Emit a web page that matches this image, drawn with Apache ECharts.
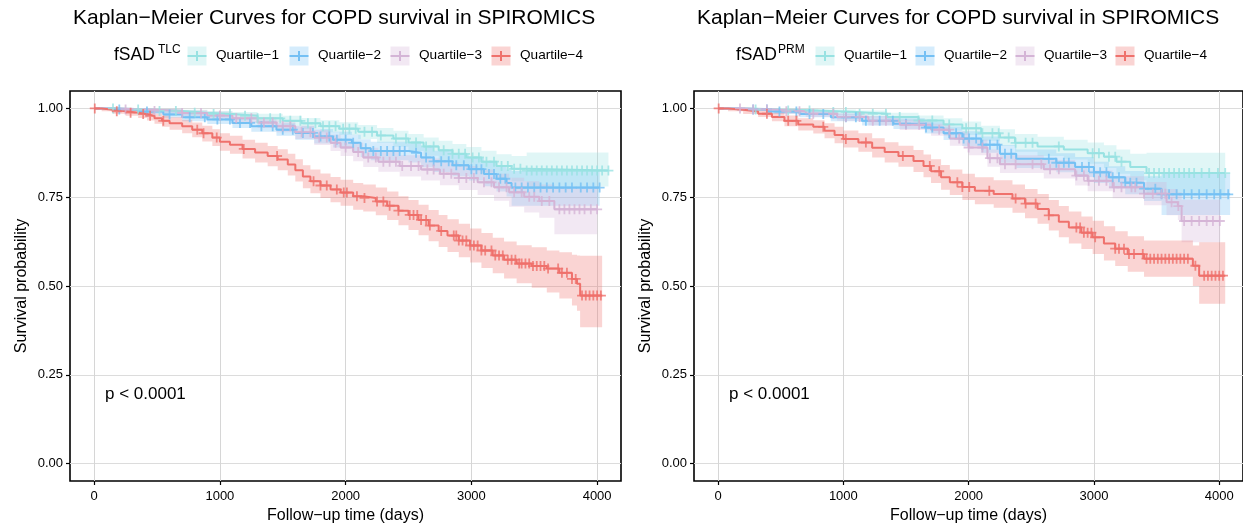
<!DOCTYPE html>
<html><head><meta charset="utf-8">
<script src="https://cdn.jsdelivr.net/npm/echarts@6/dist/echarts.min.js"></script>
<style>html,body{margin:0;padding:0;background:#fff}#c{width:1243px;height:529px}</style>
</head><body><div id="c"></div>
<script>
// ---------------- data ----------------
const groups = ['Quartile−1', 'Quartile−2', 'Quartile−3', 'Quartile−4'];
const panelTitles = ['Kaplan−Meier Curves for COPD survival in SPIROMICS', 'Kaplan−Meier Curves for COPD survival in SPIROMICS'];
const legendSup = ['TLC', 'PRM'];
const pValueText = 'p < 0.0001';
const xTicks = [0, 1000, 2000, 3000, 4000];
const yTicks = [0, 0.25, 0.5, 0.75, 1];
const yTickLabels = ['0.00', '0.25', '0.50', '0.75', '1.00'];
const xName = 'Follow−up time (days)';
const yName = 'Survival probability';

// rows: [time, survival, lower CI, upper CI]
const tlcQ1 = [[0,1,1,1],[200,0.997,0.993,1],[450,0.993,0.987,0.999],[700,0.988,0.980,0.996],[900,0.984,0.975,0.993],[1100,0.979,0.968,0.990],[1300,0.972,0.960,0.985],[1500,0.965,0.951,0.979],[1650,0.958,0.942,0.973],[1800,0.950,0.933,0.967],[1950,0.943,0.925,0.961],[2100,0.934,0.914,0.953],[2250,0.924,0.903,0.945],[2380,0.915,0.892,0.937],[2500,0.904,0.880,0.928],[2620,0.893,0.867,0.918],[2740,0.882,0.855,0.909],[2850,0.872,0.844,0.900],[2960,0.862,0.832,0.891],[3080,0.850,0.819,0.881],[3200,0.838,0.805,0.871],[3320,0.830,0.795,0.866],[3440,0.825,0.780,0.876],[4090,0.825,0.780,0.876]];
const tlcQ2 = [[0,1,1,1],[150,0.997,0.993,1],[350,0.991,0.984,0.998],[550,0.983,0.974,0.992],[700,0.975,0.964,0.986],[900,0.969,0.956,0.981],[1100,0.959,0.945,0.973],[1250,0.950,0.934,0.966],[1450,0.940,0.923,0.958],[1600,0.931,0.912,0.950],[1750,0.921,0.901,0.942],[1900,0.912,0.890,0.934],[2050,0.903,0.880,0.926],[2120,0.888,0.863,0.913],[2200,0.880,0.854,0.906],[2500,0.875,0.848,0.902],[2600,0.862,0.834,0.891],[2700,0.851,0.821,0.881],[2850,0.840,0.809,0.871],[2980,0.829,0.797,0.862],[3100,0.815,0.781,0.849],[3200,0.802,0.766,0.838],[3280,0.790,0.752,0.828],[3320,0.777,0.726,0.824],[4020,0.777,0.726,0.824]];
const tlcQ3 = [[0,1,1,1],[200,0.997,0.993,1],[450,0.993,0.986,0.999],[700,0.987,0.978,0.995],[900,0.980,0.969,0.991],[1100,0.972,0.959,0.985],[1300,0.960,0.945,0.975],[1450,0.950,0.933,0.967],[1600,0.933,0.914,0.952],[1750,0.918,0.897,0.939],[1880,0.903,0.880,0.926],[1960,0.890,0.866,0.914],[2060,0.877,0.851,0.903],[2140,0.862,0.835,0.889],[2260,0.850,0.822,0.878],[2430,0.838,0.808,0.868],[2600,0.828,0.797,0.859],[2750,0.816,0.784,0.848],[2900,0.804,0.770,0.838],[3050,0.792,0.756,0.828],[3180,0.778,0.740,0.816],[3300,0.764,0.723,0.805],[3420,0.751,0.707,0.795],[3540,0.739,0.692,0.786],[3660,0.716,0.646,0.777],[4000,0.716,0.646,0.777]];
const tlcQ4 = [[0,1,1,1],[60,0.996,0.992,1],[150,0.992,0.985,0.998],[250,0.988,0.979,0.996],[350,0.984,0.973,0.993],[420,0.979,0.966,0.990],[480,0.972,0.957,0.985],[540,0.965,0.948,0.980],[600,0.958,0.940,0.975],[700,0.950,0.930,0.968],[780,0.940,0.919,0.960],[860,0.930,0.907,0.951],[940,0.918,0.894,0.941],[1000,0.906,0.881,0.930],[1080,0.898,0.872,0.923],[1180,0.886,0.859,0.912],[1280,0.876,0.848,0.903],[1380,0.866,0.837,0.894],[1460,0.856,0.826,0.885],[1540,0.842,0.811,0.872],[1600,0.826,0.794,0.857],[1660,0.808,0.775,0.840],[1720,0.795,0.761,0.828],[1800,0.783,0.748,0.817],[1880,0.772,0.736,0.807],[1960,0.763,0.726,0.799],[2060,0.753,0.715,0.790],[2140,0.748,0.710,0.786],[2240,0.738,0.699,0.777],[2330,0.726,0.686,0.766],[2420,0.712,0.671,0.753],[2500,0.700,0.658,0.742],[2580,0.686,0.643,0.729],[2660,0.670,0.626,0.714],[2740,0.655,0.610,0.700],[2810,0.642,0.596,0.688],[2900,0.628,0.581,0.675],[2990,0.614,0.566,0.662],[3080,0.600,0.551,0.649],[3170,0.586,0.536,0.636],[3260,0.574,0.521,0.625],[3360,0.563,0.508,0.615],[3480,0.556,0.495,0.609],[3600,0.549,0.482,0.600],[3700,0.537,0.465,0.595],[3800,0.520,0.445,0.588],[3840,0.506,0.430,0.586],[3865,0.473,0.384,0.585],[4040,0.473,0.384,0.585]];

const prmQ1 = [[0,1,1,1],[250,0.997,0.993,1],[500,0.994,0.988,0.999],[800,0.990,0.982,0.997],[1100,0.985,0.975,0.994],[1350,0.976,0.964,0.988],[1600,0.966,0.951,0.980],[1800,0.955,0.938,0.972],[1950,0.944,0.925,0.963],[2100,0.930,0.909,0.951],[2250,0.918,0.895,0.941],[2370,0.903,0.878,0.928],[2550,0.893,0.866,0.920],[2760,0.884,0.856,0.912],[2950,0.874,0.844,0.904],[3080,0.864,0.832,0.896],[3180,0.850,0.816,0.884],[3290,0.835,0.798,0.872],[3420,0.818,0.762,0.875],[4048,0.818,0.762,0.875]];
const prmQ2 = [[0,1,1,1],[150,0.997,0.993,1],[400,0.991,0.984,0.998],[650,0.984,0.975,0.993],[900,0.975,0.964,0.986],[1150,0.965,0.952,0.978],[1400,0.957,0.942,0.972],[1650,0.946,0.929,0.963],[1800,0.930,0.911,0.949],[1950,0.915,0.894,0.936],[2100,0.898,0.875,0.921],[2250,0.872,0.847,0.897],[2380,0.858,0.832,0.884],[2700,0.847,0.820,0.874],[2850,0.835,0.807,0.863],[3000,0.820,0.790,0.850],[3120,0.806,0.775,0.837],[3250,0.791,0.758,0.824],[3400,0.774,0.739,0.809],[3540,0.758,0.700,0.815],[4087,0.758,0.700,0.815]];
const prmQ3 = [[0,1,1,1],[200,0.997,0.993,1],[450,0.992,0.985,0.998],[700,0.985,0.976,0.993],[950,0.976,0.965,0.986],[1200,0.965,0.952,0.978],[1450,0.954,0.939,0.969],[1700,0.940,0.923,0.957],[1850,0.915,0.895,0.935],[2000,0.890,0.868,0.912],[2150,0.860,0.836,0.884],[2250,0.843,0.818,0.868],[2600,0.829,0.803,0.855],[2850,0.811,0.783,0.839],[2950,0.796,0.767,0.825],[3150,0.778,0.747,0.809],[3400,0.760,0.727,0.793],[3580,0.736,0.699,0.773],[3670,0.725,0.686,0.764],[3700,0.683,0.623,0.743],[4008,0.683,0.623,0.743]];
const prmQ4 = [[0,1,1,1],[80,0.996,0.992,1],[200,0.991,0.984,0.998],[320,0.985,0.976,0.994],[430,0.976,0.964,0.988],[530,0.965,0.950,0.980],[640,0.955,0.938,0.972],[760,0.948,0.929,0.967],[850,0.937,0.916,0.958],[930,0.925,0.902,0.948],[1000,0.914,0.890,0.938],[1120,0.904,0.878,0.930],[1230,0.889,0.862,0.916],[1330,0.877,0.848,0.905],[1440,0.866,0.836,0.895],[1560,0.852,0.821,0.883],[1640,0.838,0.806,0.870],[1700,0.823,0.790,0.857],[1780,0.806,0.771,0.841],[1850,0.792,0.756,0.828],[1950,0.779,0.742,0.816],[2050,0.768,0.730,0.806],[2200,0.759,0.720,0.798],[2350,0.746,0.706,0.786],[2450,0.732,0.691,0.773],[2550,0.717,0.675,0.759],[2640,0.699,0.656,0.742],[2720,0.681,0.637,0.725],[2800,0.665,0.620,0.710],[2900,0.650,0.604,0.696],[2990,0.637,0.590,0.684],[3080,0.620,0.572,0.668],[3170,0.605,0.556,0.654],[3270,0.590,0.540,0.640],[3400,0.577,0.526,0.628],[3790,0.557,0.500,0.614],[3840,0.529,0.450,0.623],[4048,0.529,0.450,0.623]];

// censoring times
const tlcQ1Cens = [150,350,520,650,800,950,1080,1200,1300,1400,1480,1560,1640,1700,1760,1820,1870,1920,1980,2030,2080,2150,2210,2280,2400,2480,2560,2640,2700,2780,2850,2900,2950,3010,3060,3120,3180,3240,3290,3340,3390,3440,3480,3520,3560,3600,3640,3680,3720,3760,3800,3840,3880,3920,3960,4000,4040,4090];
const tlcQ2Cens = [200,420,600,760,880,980,1080,1160,1240,1330,1420,1500,1580,1660,1740,1800,1870,1930,2000,2060,2160,2220,2280,2330,2380,2430,2470,2560,2640,2700,2760,2820,2880,2940,3000,3040,3080,3140,3180,3230,3270,3350,3400,3450,3500,3550,3600,3650,3700,3750,3800,3870,3920,3970,4020];
const tlcQ3Cens = [250,480,700,850,1000,1130,1250,1350,1420,1500,1560,1650,1720,1790,1850,1920,2000,2100,2180,2240,2300,2350,2400,2450,2520,2580,2650,2700,2780,2840,2900,2960,3020,3100,3160,3220,3280,3340,3400,3460,3500,3560,3620,3700,3740,3780,3820,3860,3900,3950,4000];
const tlcQ4Cens = [5,180,290,390,445,550,820,870,975,1190,1455,1745,1800,1850,1930,1985,2010,2090,2150,2250,2300,2350,2420,2510,2540,2570,2600,2640,2670,2760,2860,2880,2900,2930,2960,2990,3020,3050,3080,3110,3160,3190,3220,3250,3290,3320,3350,3380,3400,3430,3460,3490,3520,3550,3580,3610,3690,3720,3760,3800,3830,3880,3910,3940,3970,4000,4030];
const prmQ1Cens = [300,560,730,920,1020,1130,1235,1340,1450,1600,1710,1845,1980,2060,2110,2190,2240,2320,2375,2455,2510,2720,2990,3040,3120,3170,3220,3440,3480,3520,3560,3600,3640,3680,3720,3760,3800,3860,3920,3990,4048];
const prmQ2Cens = [280,390,490,625,730,840,1020,1100,1180,1290,1395,1500,1660,1710,1845,1900,1960,2004,2060,2110,2170,2230,2290,2340,2640,2700,2760,2800,2905,2960,3000,3050,3100,3150,3200,3250,3290,3340,3400,3490,3540,3600,3660,3720,3780,3840,3900,3960,4010,4072];
const prmQ3Cens = [175,280,390,545,650,760,920,1020,1130,1235,1340,1500,1605,1765,1845,1925,2000,2110,2170,2230,2290,2375,2510,2580,2650,2720,2860,2920,2958,3040,3100,3160,3220,3300,3330,3400,3470,3540,3570,3620,3674,3720,3780,3840,3900,3950,4005];
const prmQ4Cens = [5,390,560,625,840,1020,1180,1475,1690,1765,1910,1950,2005,2165,2375,2455,2535,2640,2860,2890,2920,2950,2980,3010,3170,3200,3240,3280,3320,3390,3420,3450,3480,3510,3540,3570,3600,3630,3660,3690,3720,3750,3810,3880,3910,3940,3970,4000,4030];

// ---------------- styling ----------------
const colors = ['#98E2E2', '#74C0F4', '#D4B4D6', '#EF716C'];
const FONT = '"Liberation Sans", Arial, Helvetica, sans-serif';
const panels = [
  { curves: [tlcQ1, tlcQ2, tlcQ3, tlcQ4], cens: [tlcQ1Cens, tlcQ2Cens, tlcQ3Cens, tlcQ4Cens], left: 70 },
  { curves: [prmQ1, prmQ2, prmQ3, prmQ4], cens: [prmQ1Cens, prmQ2Cens, prmQ3Cens, prmQ4Cens], left: 694 }
];
const GRID_W = 551, GRID_TOP = 91, GRID_H = 391;
const PLUS = 'path://M0 5L10 5M5 0L5 10';

function survAt(rows, t) {
  let v = rows[0][1];
  for (const r of rows) { if (r[0] <= t) v = r[1]; else break; }
  return v;
}

function bandRenderer(rows, col) {
  return function (params, api) {
    const up = [], low = [];
    for (let i = 0; i < rows.length; i++) {
      const t0 = rows[i][0];
      const t1 = i < rows.length - 1 ? rows[i + 1][0] : rows[i][0];
      up.push(api.coord([t0, rows[i][3]]), api.coord([t1, rows[i][3]]));
      low.push(api.coord([t0, rows[i][2]]), api.coord([t1, rows[i][2]]));
    }
    return { type: 'polygon', shape: { points: up.concat(low.reverse()) }, style: { fill: col, opacity: 0.3 } };
  };
}

const grids = [], xAxes = [], yAxes = [], series = [], titles = [], graphics = [];
panels.forEach((p, pi) => {
  grids.push({ left: p.left, top: GRID_TOP, width: GRID_W, height: GRID_H, show: true, borderColor: '#000', borderWidth: 1.6, backgroundColor: '#fff', containLabel: false });
  xAxes.push({
    type: 'value', gridIndex: pi, min: -192, max: 4190,
    name: xName, nameLocation: 'middle', nameGap: 27,
    nameTextStyle: { fontFamily: FONT, fontSize: 16, color: '#000' },
    axisLine: { show: false, onZero: false },
    axisTick: { show: true, length: 4, customValues: xTicks, lineStyle: { color: '#000', width: 1.2 } },
    axisLabel: { customValues: xTicks, margin: 9, fontFamily: FONT, fontSize: 13, color: '#000', formatter: v => String(v) },
    splitLine: { show: true, lineStyle: { color: '#D6D6D6', width: 1 } }
  });
  yAxes.push({
    type: 'value', gridIndex: pi, min: -0.049, max: 1.049,
    name: yName, nameLocation: 'middle', nameGap: 40,
    nameTextStyle: { fontFamily: FONT, fontSize: 16, color: '#000' },
    axisLine: { show: false, onZero: false },
    axisTick: { show: true, length: 4, customValues: yTicks, lineStyle: { color: '#000', width: 1.2 } },
    axisLabel: { customValues: yTicks, margin: 7, fontFamily: FONT, fontSize: 13, color: '#000',
      formatter: v => yTickLabels[yTicks.indexOf(Math.round(v * 100) / 100)] || '' },
    splitLine: { show: true, lineStyle: { color: '#DCDCDC', width: 1 } }
  });
  titles.push({ text: panelTitles[pi], left: p.left - 2, top: 3,
    textStyle: { fontFamily: FONT, fontSize: 21, fontWeight: 'normal', color: '#000' } });

  p.curves.forEach((rows, gi) => {
    series.push({ type: 'custom', xAxisIndex: pi, yAxisIndex: pi, silent: true, z: 1,
      data: [[rows[0][0], rows[0][1]]], encode: { x: 0, y: 1 },
      renderItem: bandRenderer(rows, colors[gi]) });
  });
  p.curves.forEach((rows, gi) => {
    const col = colors[gi];
    series.push({ type: 'line', name: groups[gi], xAxisIndex: pi, yAxisIndex: pi, step: 'end', symbol: 'none', silent: true,
      lineStyle: { color: col, width: 2 }, data: rows.map(r => [r[0], r[1]]), z: 3 });
    series.push({ type: 'scatter', xAxisIndex: pi, yAxisIndex: pi, symbol: PLUS, symbolSize: 10, silent: true,
      itemStyle: { color: 'rgba(0,0,0,0)', borderColor: col, borderWidth: 1.8 },
      data: p.cens[gi].map(t => [t, survAt(rows, t)]), z: 4 });
  });

  // legend (drawn as graphics)
  const base = pi === 0 ? { title: 114, sup: 158, keys: [197, 299, 400, 501] } : { title: 736, sup: 778, keys: [825, 925, 1025, 1125] };
  const ly = 56;
  graphics.push({ type: 'text', left: base.title, top: ly - 10, style: { text: 'fSAD', fontFamily: FONT, fontSize: 17.5, fill: '#000' } });
  graphics.push({ type: 'text', left: base.sup, top: ly - 12, style: { text: legendSup[pi], fontFamily: FONT, fontSize: 12, fill: '#000' } });
  base.keys.forEach((cx, gi) => {
    const col = colors[gi];
    graphics.push({ type: 'rect', shape: { x: cx - 9.5, y: ly - 9.5, width: 19, height: 19 }, style: { fill: col, opacity: 0.3 } });
    graphics.push({ type: 'line', shape: { x1: cx - 9.5, y1: ly, x2: cx + 9.5, y2: ly }, style: { stroke: col, lineWidth: 2 } });
    graphics.push({ type: 'line', shape: { x1: cx, y1: ly - 5, x2: cx, y2: ly + 5 }, style: { stroke: col, lineWidth: 2 } });
    graphics.push({ type: 'text', left: cx + 19, top: ly - 8, style: { text: groups[gi], fontFamily: FONT, fontSize: 13.6, fill: '#000' } });
  });
  graphics.push({ type: 'text', left: p.left + 35, top: 386, z: 10, style: { text: pValueText, fontFamily: FONT, fontSize: 17, fill: '#000' } });
});

const chart = echarts.init(document.getElementById('c'), null, { renderer: 'canvas' });
chart.setOption({
  animation: false,
  backgroundColor: '#fff',
  title: titles,
  grid: grids,
  xAxis: xAxes,
  yAxis: yAxes,
  series: series,
  graphic: graphics
});
</script>
</body></html>
